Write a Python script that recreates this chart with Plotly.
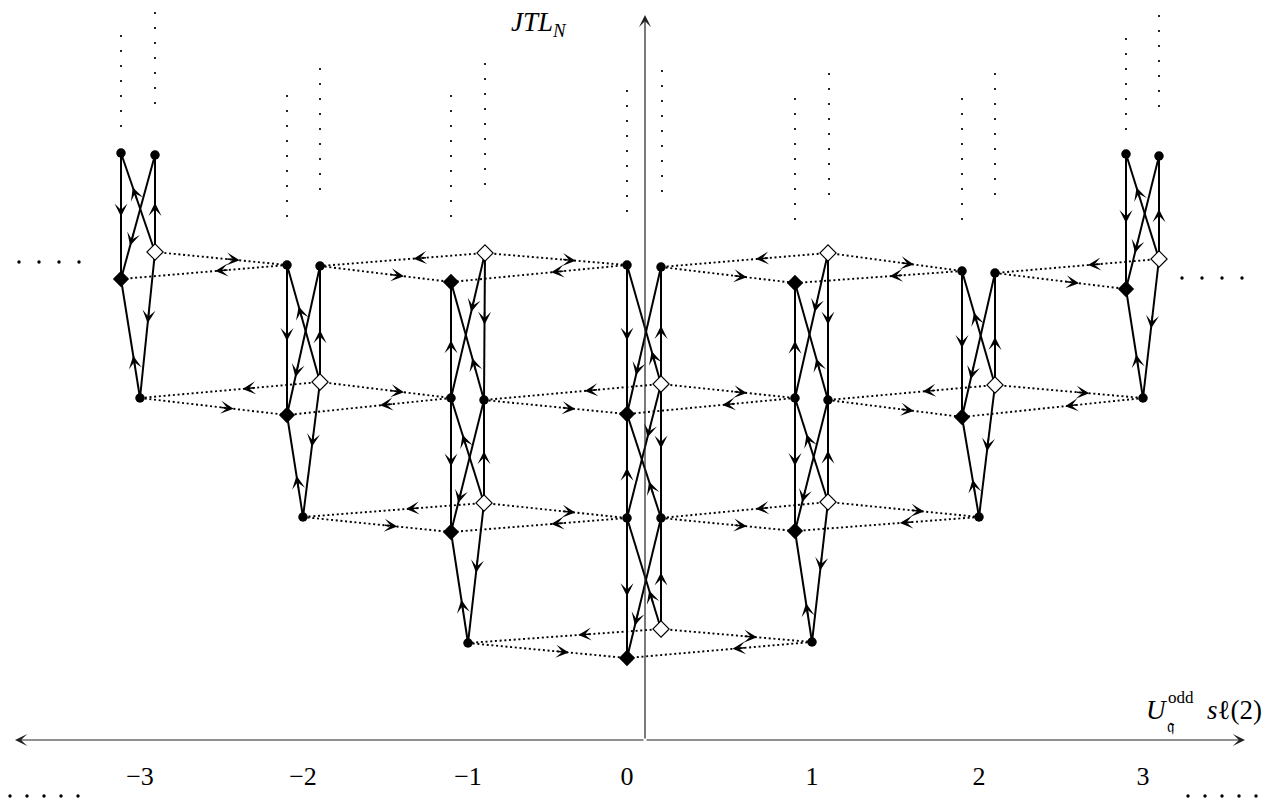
import plotly.graph_objects as go

W, H = 1266, 801

# ---------------- data (diagram coordinates) ----------------
NODE_NAMES = [
    "m3A", "m3B", "m3O", "m3F", "m3b",
    "m2L", "m2R", "m2O", "m2F", "m2b",
    "m1O1", "m1F1", "m1L", "m1R", "m1O2", "m1F2", "m1b",
    "0L1", "0R1", "0O1", "0F1", "0L2", "0R2", "0O2", "0F2",
    "p1O1", "p1F1", "p1L", "p1R", "p1O2", "p1F2", "p1b",
    "p2L", "p2R", "p2O", "p2F", "p2b",
    "p3A", "p3B", "p3O", "p3F", "p3b",
]
NODE_X = [
    121, 155, 155, 121, 140,
    287, 320, 320, 287, 303,
    485, 451, 451, 484, 484, 451, 468,
    627, 661, 661, 627, 627, 661, 661, 627,
    828, 795, 795, 828, 828, 795, 812,
    962, 995, 995, 962, 979,
    1126, 1159, 1159, 1126, 1143,
]
NODE_Y = [
    153, 155, 252, 279, 398,
    265, 266, 382, 415, 517,
    253, 282, 398, 400, 503, 532, 643,
    265, 267, 384, 414, 518, 518, 629, 658,
    253, 283, 398, 400, 502, 531, 642,
    271, 273, 385, 417, 517,
    154, 156, 259, 289, 398,
]
# dot = filled circle, F = filled diamond, O = open diamond
NODE_KIND = [
    "dot", "dot", "O", "F", "dot",
    "dot", "dot", "O", "F", "dot",
    "O", "F", "dot", "dot", "O", "F", "dot",
    "dot", "dot", "O", "F", "dot", "dot", "O", "F",
    "O", "F", "dot", "dot", "O", "F", "dot",
    "dot", "dot", "O", "F", "dot",
    "dot", "dot", "O", "F", "dot",
]

# solid edges: (source, target, arrow position along the edge)
SOLID_EDGES = [
    ("m3A", "m3F", 0.46), ("m3O", "m3B", 0.45), ("m3O", "m3A", 0.60), ("m3B", "m3F", 0.69),
    ("m3O", "m3b", 0.45), ("m3b", "m3F", 0.31),
    ("m2L", "m2F", 0.47), ("m2O", "m2R", 0.40), ("m2O", "m2L", 0.60), ("m2R", "m2F", 0.71),
    ("m2O", "m2b", 0.44), ("m2b", "m2F", 0.35),
    ("m1L", "m1F1", 0.45), ("m1O1", "m1R", 0.45), ("m1O1", "m1L", 0.37), ("m1R", "m1F1", 0.31),
    ("m1L", "m1F2", 0.47), ("m1O2", "m1R", 0.45), ("m1O2", "m1L", 0.60), ("m1R", "m1F2", 0.74),
    ("m1O2", "m1b", 0.46), ("m1b", "m1F2", 0.34),
    ("0L1", "0F1", 0.47), ("0O1", "0R1", 0.45), ("0O1", "0L1", 0.23), ("0R1", "0F1", 0.70),
    ("0L2", "0F1", 0.43), ("0O1", "0R2", 0.44), ("0O1", "0L2", 0.36), ("0R2", "0F1", 0.30),
    ("0L2", "0F2", 0.52), ("0O2", "0R2", 0.46), ("0O2", "0L2", 0.30), ("0R2", "0F2", 0.73),
    ("p1L", "p1F1", 0.45), ("p1O1", "p1R", 0.45), ("p1O1", "p1L", 0.37), ("p1R", "p1F1", 0.31),
    ("p1L", "p1F2", 0.47), ("p1O2", "p1R", 0.45), ("p1O2", "p1L", 0.60), ("p1R", "p1F2", 0.74),
    ("p1O2", "p1b", 0.45), ("p1b", "p1F2", 0.30),
    ("p2L", "p2F", 0.49), ("p2O", "p2R", 0.38), ("p2O", "p2L", 0.59), ("p2R", "p2F", 0.70),
    ("p2O", "p2b", 0.46), ("p2b", "p2F", 0.32),
    ("p3A", "p3F", 0.47), ("p3O", "p3B", 0.43), ("p3O", "p3A", 0.63), ("p3B", "p3F", 0.69),
    ("p3O", "p3b", 0.46), ("p3b", "p3F", 0.35),
]

# dotted edges between neighbouring blocks: (source, target)
DOTTED_EDGES = [
    ("m3O", "m2L"), ("m2L", "m3F"),
    ("m1O1", "m2R"), ("m2R", "m1F1"),
    ("m1O1", "0L1"), ("0L1", "m1F1"),
    ("p1O1", "0R1"), ("0R1", "p1F1"),
    ("p1O1", "p2L"), ("p2L", "p1F1"),
    ("p3O", "p2R"), ("p2R", "p3F"),
    ("m2O", "m3b"), ("m3b", "m2F"),
    ("m2O", "m1L"), ("m1L", "m2F"),
    ("0O1", "m1R"), ("m1R", "0F1"),
    ("0O1", "p1L"), ("p1L", "0F1"),
    ("p2O", "p1R"), ("p1R", "p2F"),
    ("p2O", "p3b"), ("p3b", "p2F"),
    ("m1O2", "m2b"), ("m2b", "m1F2"),
    ("m1O2", "0L2"), ("0L2", "m1F2"),
    ("p1O2", "0R2"), ("0R2", "p1F2"),
    ("p1O2", "p2b"), ("p2b", "p1F2"),
    ("0O2", "m1b"), ("m1b", "0F2"),
    ("0O2", "p1b"), ("p1b", "0F2"),
]

# vertical "continues upwards" dotted columns
CONT_X = [121, 155, 287, 320, 451, 485, 627, 662, 795, 829, 962, 995, 1126, 1159]
CONT_TOP = [35, 12, 95, 68, 95, 63, 90, 70, 98, 73, 98, 73, 38, 15]
CONT_BOT = [125, 102, 215, 188, 215, 183, 210, 190, 218, 193, 218, 193, 128, 105]

# horizontal ellipsis dots
ELL_LEFT_X, ELL_LEFT_Y = [19, 39, 59, 79], 262
ELL_RIGHT_X, ELL_RIGHT_Y = [1182, 1202, 1222, 1242], 278
ELL_BL_X = [10, 27, 44, 61, 78]
ELL_BR_X = [1188, 1205, 1222, 1239, 1256]
ELL_B_Y = 796

TICK_TEXT = ["\u22123", "\u22122", "\u22121", "0", "1", "2", "3"]
TICK_X = [140, 303, 468, 627, 812, 979, 1143]
TICK_Y = 778

AXIS_Y = 740
AXIS_X = 645
AXIS_LEFT, AXIS_RIGHT, AXIS_TOP = 15, 1245, 15

# ---------------- build figure ----------------
pos = {n: (x, y) for n, x, y in zip(NODE_NAMES, NODE_X, NODE_Y)}
FONT = "Liberation Serif"

fig = go.Figure()

# dotted edges
dx_, dy_ = [], []
for s, t in DOTTED_EDGES:
    dx_ += [pos[s][0], pos[t][0], None]
    dy_ += [pos[s][1], pos[t][1], None]
fig.add_trace(go.Scatter(x=dx_, y=dy_, mode="lines",
                         line=dict(color="black", width=1.9, dash="2px,2.7px"),
                         hoverinfo="skip"))

# vertical continuation dots
cx_, cy_ = [], []
for x, a, b in zip(CONT_X, CONT_TOP, CONT_BOT):
    cx_ += [x, x, None]
    cy_ += [a, b + 2, None]
fig.add_trace(go.Scatter(x=cx_, y=cy_, mode="lines",
                         line=dict(color="black", width=1.7, dash="2px,13px"),
                         hoverinfo="skip"))

# solid edges
sx_, sy_ = [], []
for s, t, _ in SOLID_EDGES:
    sx_ += [pos[s][0], pos[t][0], None]
    sy_ += [pos[s][1], pos[t][1], None]
fig.add_trace(go.Scatter(x=sx_, y=sy_, mode="lines",
                         line=dict(color="black", width=2),
                         hoverinfo="skip"))

# ellipsis dots
fig.add_trace(go.Scatter(
    x=ELL_LEFT_X + ELL_RIGHT_X + ELL_BL_X + ELL_BR_X,
    y=[ELL_LEFT_Y] * len(ELL_LEFT_X) + [ELL_RIGHT_Y] * len(ELL_RIGHT_X)
      + [ELL_B_Y] * (len(ELL_BL_X) + len(ELL_BR_X)),
    mode="markers", marker=dict(color="black", size=3.4, symbol="circle"),
    hoverinfo="skip"))

# nodes
for kind, sym, size, fill, lw in [("dot", "circle", 9.5, "black", 0),
                                  ("F", "diamond", 12.5, "black", 0),
                                  ("O", "diamond", 12.5, "white", 1.1)]:
    xs = [x for x, k in zip(NODE_X, NODE_KIND) if k == kind]
    ys = [y for y, k in zip(NODE_Y, NODE_KIND) if k == kind]
    fig.add_trace(go.Scatter(x=xs, y=ys, mode="markers",
                             marker=dict(symbol=sym, size=size, color=fill,
                                         line=dict(color="black", width=lw)),
                             hoverinfo="skip"))

# tick labels
fig.add_trace(go.Scatter(x=TICK_X, y=[TICK_Y] * len(TICK_X), mode="text",
                         text=TICK_TEXT, textfont=dict(family=FONT, size=26, color="black"),
                         hoverinfo="skip"))

annotations = []
HEAD = 11.0
TAIL = 14.0


def arrow(x0, y0, x1, y1, frac):
    ddx, ddy = x1 - x0, y1 - y0
    L = (ddx * ddx + ddy * ddy) ** 0.5
    ux, uy = ddx / L, ddy / L
    cx, cy = x0 + frac * ddx, y0 + frac * ddy
    tx, ty = cx + HEAD / 2 * ux, cy + HEAD / 2 * uy
    return dict(x=tx, y=ty, ax=tx - TAIL * ux, ay=ty - TAIL * uy,
                xref="x", yref="y", axref="x", ayref="y", text="",
                showarrow=True, arrowhead=3, arrowsize=1.45, arrowwidth=1.5,
                arrowcolor="black")


for s, t, f in SOLID_EDGES:
    annotations.append(arrow(*pos[s], *pos[t], f))

for s, t in DOTTED_EDGES:
    (x0, y0), (x1, y1) = pos[s], pos[t]
    f = 0.6 if x0 < x1 else 0.4
    annotations.append(arrow(x0, y0, x1, y1, f))

# axes with arrow heads
for (xt, yt) in [(AXIS_LEFT, AXIS_Y), (AXIS_RIGHT, AXIS_Y)]:
    annotations.append(dict(x=xt, y=yt, ax=AXIS_X, ay=AXIS_Y, xref="x", yref="y",
                            axref="x", ayref="y", text="", showarrow=True,
                            arrowhead=3, arrowsize=1.7, arrowwidth=1.2,
                            arrowcolor="#222222"))
annotations.append(dict(x=AXIS_X, y=AXIS_TOP, ax=AXIS_X, ay=AXIS_Y, xref="x", yref="y",
                        axref="x", ayref="y", text="", showarrow=True,
                        arrowhead=3, arrowsize=1.7, arrowwidth=1.2,
                        arrowcolor="#222222"))


def label(x, y, text, size, anchor="left", family=FONT):
    return dict(x=x, y=y, xref="x", yref="y", xanchor=anchor, yanchor="middle",
                text=text, showarrow=False, borderpad=0,
                font=dict(family=family, size=size, color="black"))


# vertical axis label
annotations.append(label(568, 24, "<i>JTL</i><sub><i>N</i></sub>", 27, anchor="right"))
# horizontal axis label  U_q^odd sl(2), assembled from pieces
annotations.append(label(1168, 710, "<i>U</i>", 27, anchor="right"))
annotations.append(label(1167, 697, "odd", 17))
annotations.append(label(1166, 726, "\U0001D52E", 17, family="DejaVu Serif"))
annotations.append(label(1263, 710, "<i>s</i>\u2113(2)", 27, anchor="right"))

fig.update_layout(
    width=W, height=H,
    margin=dict(l=0, r=0, t=0, b=0),
    paper_bgcolor="white", plot_bgcolor="white",
    showlegend=False,
    xaxis=dict(range=[0, W], visible=False, fixedrange=True),
    yaxis=dict(range=[H, 0], visible=False, fixedrange=True),
    annotations=annotations,
)

fig.write_html("out.html", config={"displayModeBar": False},
               post_script="document.body.style.margin='0';document.body.style.overflow='hidden';")
